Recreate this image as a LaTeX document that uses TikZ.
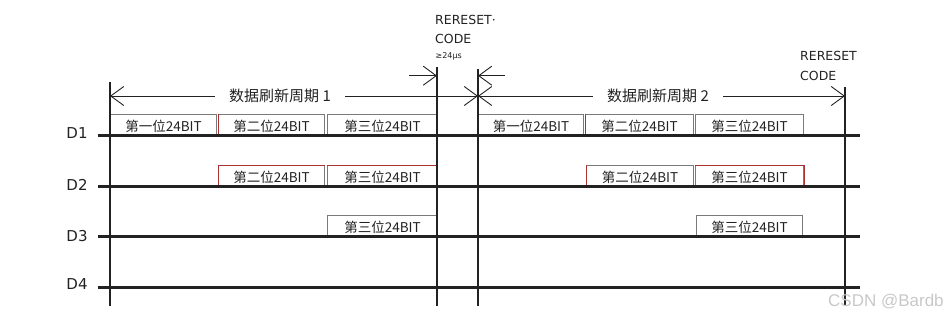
\documentclass[tikz,border=0pt]{standalone}
\usepackage{fontspec}
\setmainfont{DejaVu Sans}
\newfontfamily\cjk{Noto Sans CJK SC}
\newfontfamily\wmfont{Liberation Sans}
\usetikzlibrary{arrows.meta}
\definecolor{boxgray}{HTML}{7A7A7A}
\definecolor{edgered}{HTML}{A83232}
\definecolor{markgray}{HTML}{C8C8C8}
\definecolor{inkdark}{HTML}{222222}

\begin{document}
\begin{tikzpicture}[x=1pt, y=-1pt, every node/.style={inner sep=0pt, text=inkdark}, bitbox/.style={draw=boxgray, line width=1pt, minimum height=20.5pt, text height=13pt, text depth=0pt, anchor=south west, font=\cjk\fontsize{13.5}{14}\selectfont}, sigline/.style={line width=2.3pt, inkdark}, bar/.style={line width=1.5pt, inkdark}, barbend/.style={line width=0.9pt, inkdark, -{Straight Barb[length=13pt,width=19pt]}}, rededge/.style={draw=edgered, line width=1pt}, signame/.style={anchor=base, font=\fontsize{15}{16}\selectfont}, period/.style={fill=white, inner xsep=14pt, inner ysep=2pt, font=\cjk\fontsize{15}{16}\selectfont}, codetext/.style={anchor=base west, font=\fontsize{12.5}{14}\selectfont}]
\useasboundingbox (0,0) rectangle (951,319);
% frame lines
\coordinate (f1) at (110,82);  \coordinate (g1) at (110,306);
\coordinate (f2) at (437,67);  \coordinate (g2) at (437,306);
\coordinate (f3) at (478,69);  \coordinate (g3) at (478,306);
\coordinate (f4) at (845,87);  \coordinate (g4) at (845,306);
% bits, period 1
\node[bitbox, minimum width=106pt] (a11) at (110,135.5) {第一位24BIT};
\node[bitbox, minimum width=106pt] (a12) at (218,135.5) {第二位24BIT};
\node[bitbox, minimum width=110pt] (a13) at (327,135.5) {第三位24BIT};
\node[bitbox, minimum width=106pt] (a22) at (218,186.5) {第二位24BIT};
\node[bitbox, minimum width=110pt] (a23) at (327,186.5) {第三位24BIT};
\node[bitbox, minimum width=110pt] (a33) at (327,236.5) {第三位24BIT};
% bits, period 2
\node[bitbox, minimum width=105pt] (b11) at (478,135.5) {第一位24BIT};
\node[bitbox, minimum width=108pt] (b12) at (585,135.5) {第二位24BIT};
\node[bitbox, minimum width=108pt] (b13) at (695,135.5) {第三位24BIT};
\node[bitbox, minimum width=107pt] (b22) at (586,186.5) {第二位24BIT};
\node[bitbox, minimum width=108pt] (b23) at (695,186.5) {第三位24BIT};
\node[bitbox, minimum width=106pt] (b33) at (696,236.5) {第三位24BIT};
% red edges
\draw[rededge] (a12.south west) -- (a12.north west);
\draw[rededge] (a22.south west) -- (a22.north west) -- (a22.north east);
\draw[rededge] (a23.north west) -- (a23.north east);
\draw[rededge] (b12.south west) -- (b12.north west);
\draw[rededge] (b22.south west) -- (b22.north west);
\draw[rededge] (b23.north west) -- (b23.north east) -- (b23.south east);
% signal lines
\foreach \n/\y/\b in {1/135.5/138, 2/186.5/190, 3/236.5/241.5, 4/287.5/289} {
  \coordinate (l\n) at (98,\y);
  \coordinate (r\n) at (860,\y);
  \draw[sigline] (l\n) -- (r\n);
  \node[signame] (d\n) at (77,\b) {D\n};
}
\draw[bar] (f1) -- (g1);
\draw[bar] (f2) -- (g2);
\draw[bar] (f3) -- (g3);
\draw[bar] (f4) -- (g4);
% refresh periods
\node[period] (per1) at (280,96) {数据刷新周期 1};
\node[period] (per2) at (658,96) {数据刷新周期 2};
\draw[barbend] (per1.west) -- (110,96);
\draw[barbend] (per1.east) -- (478,96);
\draw[barbend] (per2.west) -- (478,96);
\draw[barbend] (per2.east) -- (845,96);
% reset code
\coordinate (ra) at (409,75.7);
\coordinate (rb) at (505,75.7);
\draw[barbend] (ra) -- (437,75.7);
\draw[barbend] (rb) -- (478,75.7);
\node[codetext] (rst1) at (435,24) {RERESET·};
\node[codetext] (code1) at (435,43) {CODE};
\node[anchor=base west, font=\fontsize{8}{9}\selectfont] (min1) at (435.5,58.5) {≥24μs};
\node[codetext] (rst2) at (800,60.7) {RERESET};
\node[codetext] (code2) at (800,80) {CODE};
\node[anchor=base west, text=markgray, font=\wmfont\fontsize{17}{18}\selectfont] (mark) at (828,306) {CSDN @Bardb};
\end{tikzpicture}
\end{document}
